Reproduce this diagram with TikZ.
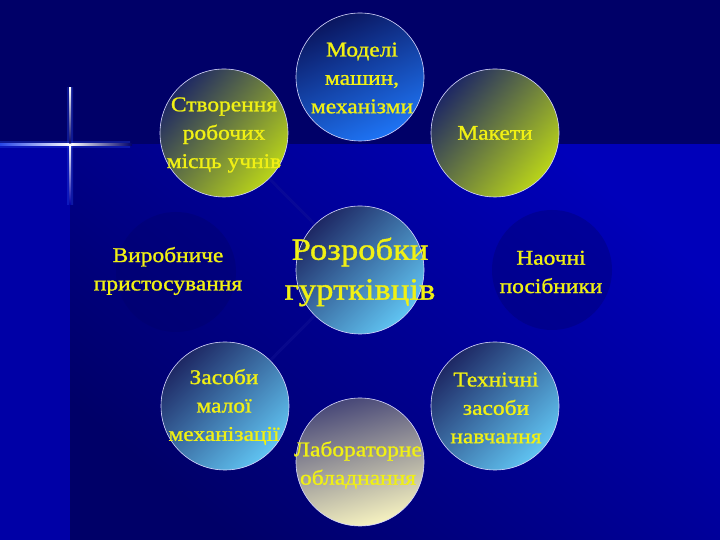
\documentclass[tikz,border=0pt]{standalone}
\usepackage{fontspec}
\setmainfont{Liberation Serif}
\newfontfamily\lblfont{Liberation Serif}[FakeStretch=1.12, FakeBold=1.2]
\usetikzlibrary{calc}
\pgfdeclarelayer{bglayer}
\pgfdeclarelayer{spokes}
\pgfsetlayers{bglayer,spokes,main}
\definecolor{bgdark}{RGB}{0,0,104}
\definecolor{bgbright}{RGB}{0,0,186}
\definecolor{bgstrip}{RGB}{0,0,166}
\definecolor{txty}{RGB}{240,240,20}
\definecolor{shdark}{RGB}{30,40,100}
\definecolor{yg}{RGB}{185,212,25}
\definecolor{mtop}{RGB}{10,22,96}
\definecolor{mbot}{RGB}{30,116,245}
\definecolor{sky}{RGB}{96,196,242}
\definecolor{labtop}{RGB}{72,72,120}
\definecolor{labbot}{RGB}{246,242,192}
\definecolor{spoke}{RGB}{20,20,150}
\definecolor{glow}{RGB}{40,70,230}
\tikzset{
  circ/.style={circle, minimum size=128bp, inner sep=0pt, draw=white!85!blue, line width=0.6bp},
  greenc/.style={circ, top color=shdark, bottom color=yg, shading angle=50},
  modc/.style={circ, top color=mtop, bottom color=mbot, shading angle=25},
  skyc/.style={circ, top color=shdark, bottom color=sky, shading angle=45},
  labc/.style={circ, top color=labtop, bottom color=labbot, shading angle=15},
  faintc/.style={circle, minimum size=120bp, inner sep=0pt},
  lbl/.style={text=txty, align=center, inner sep=0pt, font=\lblfont\fontsize{21}{28.5}\selectfont},
  biglbl/.style={text=txty, align=center, inner sep=0pt, font=\lblfont\fontsize{31}{40}\selectfont},
  spokeline/.style={draw=spoke, line width=3bp, opacity=0.4}
}
\begin{document}
\begin{tikzpicture}[x=1bp,y=1bp]
\useasboundingbox (0,0) rectangle (720,540);
\begin{pgfonlayer}{bglayer}
% background
\fill[bgdark] (0,0) rectangle (720,540);
\shade[top color=bgbright, bottom color=bgdark, shading angle=-40] (70,0) rectangle (720,395);
\fill[bgstrip] (0,0) rectangle (70,395);
% glowing cross
\shade[left color=glow, right color=glow, opacity=0.35] (0,392) rectangle (130,398);
\shade[top color=glow, bottom color=glow, opacity=0.35] (67,335) rectangle (73,452);
\shade[left color=glow, right color=white] (0,394) rectangle (70,396);
\shade[left color=white, right color=bgdark] (70,394) rectangle (132,396);
\shade[bottom color=bgstrip, top color=white] (69,335) rectangle (71,395);
\shade[top color=white, bottom color=bgdark] (69,395) rectangle (71,452);
\fill[white] (70,395) circle (1.8bp);
\end{pgfonlayer}
% faint circles
\node[faintc, fill=bgdark, opacity=0.35] (cv) at (176,268) {};
\node[faintc, fill=bgdark, opacity=0.35] (cn) at (552,270) {};
% circles
\node[skyc] (cr) at (360,270) {};
\node[greenc] (cs) at (224,407) {};
\node[modc] (cm) at (360,463) {};
\node[greenc] (ck) at (495,407) {};
\node[skyc] (cz) at (225,134) {};
\node[labc] (cl) at (360,78) {};
\node[skyc] (ct) at (495,134) {};
% spokes (behind circles)
\begin{pgfonlayer}{spokes}
\path[spokeline] (cr) -- (cs);
\path[spokeline] (cr) -- (cz);
\end{pgfonlayer}
% labels
\node[lbl] (ts) at (224,405) {Створення\\робочих\\місць учнів};
\node[lbl] (tm) at (362,462) {Моделі\\машин,\\механізми};
\node[lbl] (tk) at (495,407) {Макети};
\node[lbl] (tv) at (168,269) {Виробниче\\пристосування};
\node[biglbl] (tr) at (360,268) {Розробки\\гуртківців};
\node[lbl] (tn) at (551,268) {Наочні\\посібники};
\node[lbl] (tz) at (224,133) {Засоби\\малої\\механізації};
\node[lbl] (tl) at (358,75) {Лабораторне\\обладнання};
\node[lbl] (tt) at (496,132) {Технічні\\засоби\\навчання};
\end{tikzpicture}
\end{document}
